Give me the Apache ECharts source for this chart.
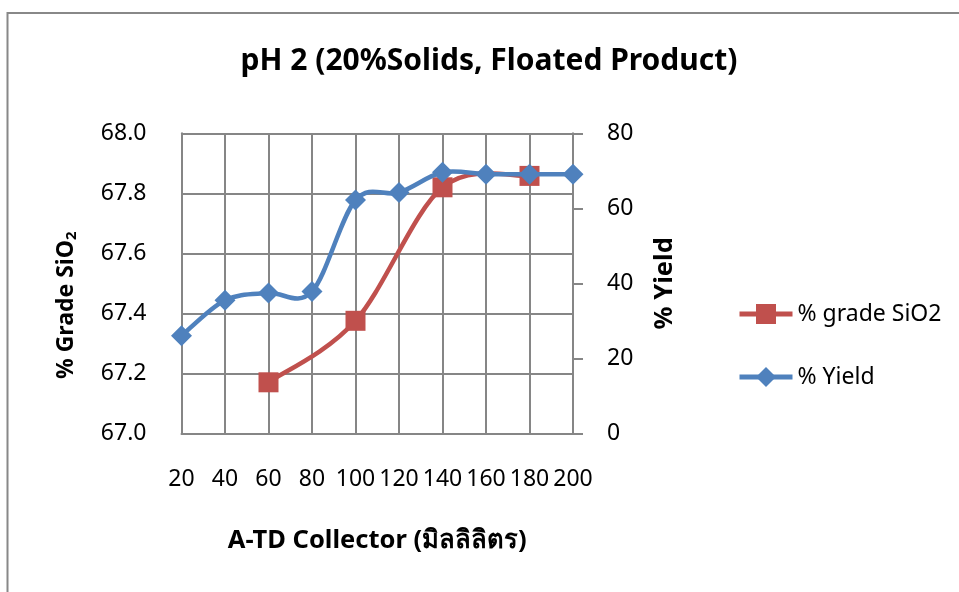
<!DOCTYPE html>
<html>
<head>
<meta charset="utf-8">
<script src="https://cdn.jsdelivr.net/npm/echarts@6/dist/echarts.min.js"></script>
<style>
  html, body { margin: 0; padding: 0; background: #ffffff; }
  #chart { width: 959px; height: 592px; }
</style>
</head>
<body>
<div id="chart"></div>
<script>
// Collector dosage (ml) on the x axis
var collectorDose = ['20', '40', '60', '80', '100', '120', '140', '160', '180', '200'];
// SiO2 grade of the floated product (%), measured at four dosages only
var gradeSiO2 = [null, null, 67.17, null, 67.375, null, 67.82, null, 67.858, null];
// Mass yield (%)
var yieldPct = [26.0, 35.5, 37.4, 37.8, 62.2, 64.2, 69.6, 69.1, 69.1, 69.1];
// Axis ranges and steps
var gradeAxis = { min: 67.0, max: 68.0, step: 0.2 };
var yieldAxis = { min: 0, max: 80, step: 20 };

var FONT = "'Noto Sans', 'DejaVu Sans', sans-serif";
var GRID = '#868686';
var RED = '#C0504D';
var BLUE = '#4F81BD';
var LINE_W = 4.5;

// [categoryIndex, value] pairs for the points that exist
function pairs(values) {
  var out = [];
  values.forEach(function (v, i) { if (v != null) out.push([i, v]); });
  return out;
}
var gradePairs = pairs(gradeSiO2);
var yieldPairs = pairs(yieldPct);

// Smooth curve through all points (Catmull-Rom turned into cubic Bezier pieces),
// positioned through the axes with api.coord.
function smoothCurve(points, color) {
  return function (params, api) {
    if (params.dataIndex !== 0) return null;
    var p = points.map(function (d) { return api.coord(d); });
    var n = p.length;
    var children = [];
    for (var i = 0; i < n - 1; i++) {
      var p0 = p[Math.max(i - 1, 0)];
      var p1 = p[i];
      var p2 = p[i + 1];
      var p3 = p[Math.min(i + 2, n - 1)];
      children.push({
        type: 'bezierCurve',
        shape: {
          x1: p1[0], y1: p1[1],
          cpx1: p1[0] + (p2[0] - p0[0]) / 6, cpy1: p1[1] + (p2[1] - p0[1]) / 6,
          cpx2: p2[0] - (p3[0] - p1[0]) / 6, cpy2: p2[1] - (p3[1] - p1[1]) / 6,
          x2: p2[0], y2: p2[1]
        },
        style: { stroke: color, lineWidth: LINE_W, fill: null, lineCap: 'round', lineJoin: 'round' }
      });
    }
    return { type: 'group', children: children };
  };
}

var chart = echarts.init(document.getElementById('chart'), null, { renderer: 'canvas' });

chart.setOption({
  backgroundColor: '#ffffff',
  animation: false,
  textStyle: { fontFamily: FONT },
  title: {
    text: 'pH 2 (20%Solids, Floated Product)',
    left: 484,
    top: 41,
    textAlign: 'center',
    textStyle: { fontFamily: FONT, fontWeight: 'bold', fontSize: 30, color: '#000' }
  },
  graphic: [{
    type: 'rect',
    shape: { x: 7.5, y: 13, width: 1000, height: 700 },
    style: { fill: 'none', stroke: '#888888', lineWidth: 2 },
    silent: true
  }],
  legend: {
    orient: 'vertical',
    left: 732,
    top: 297.5,
    itemWidth: 53,
    itemHeight: 25,
    itemGap: 40,
    textStyle: { fontFamily: FONT, fontSize: 23, color: '#000' },
    lineStyle: { width: 5, opacity: 1 },
    data: [
      { name: '% grade SiO2', lineStyle: { color: RED, width: 5, opacity: 1 } },
      { name: '% Yield', lineStyle: { color: BLUE, width: 5, opacity: 1 } }
    ]
  },
  grid: { left: 181.5, top: 133.3, width: 391.5, height: 300, containLabel: false },
  xAxis: {
    type: 'category',
    data: collectorDose,
    boundaryGap: false,
    name: 'A-TD Collector (มิลลิลิตร)',
    nameLocation: 'middle',
    nameGap: 94,
    nameTextStyle: { fontFamily: FONT, fontWeight: 'bold', fontSize: 25.5, color: '#000' },
    axisLine: { show: true, lineStyle: { color: GRID, width: 2 } },
    axisTick: { show: false },
    axisLabel: { fontFamily: FONT, fontSize: 23, color: '#000', margin: 35, interval: 0 },
    splitLine: { show: true, lineStyle: { color: GRID, width: 2 } }
  },
  yAxis: [{
    type: 'value',
    position: 'left',
    min: gradeAxis.min,
    max: gradeAxis.max,
    interval: gradeAxis.step,
    name: '{t|% Grade SiO}{s|2}',
    nameLocation: 'middle',
    nameGap: 102,
    nameRotate: 90,
    nameTextStyle: {
      padding: [0, 44, 0, 0],
      rich: {
        t: { fontFamily: FONT, fontWeight: 'bold', fontSize: 23, color: '#000' },
        s: { fontFamily: FONT, fontWeight: 'bold', fontSize: 15, color: '#000', verticalAlign: 'bottom', padding: [11, 0, 0, 0] }
      }
    },
    axisLine: { show: true, lineStyle: { color: GRID, width: 2 } },
    axisTick: { show: false },
    axisLabel: {
      fontFamily: FONT, fontSize: 23, color: '#000', margin: 35,
      formatter: function (v) { return v.toFixed(1); }
    },
    splitLine: { show: true, lineStyle: { color: GRID, width: 2 } }
  }, {
    type: 'value',
    position: 'right',
    min: yieldAxis.min,
    max: yieldAxis.max,
    interval: yieldAxis.step,
    name: '% Yield',
    nameLocation: 'middle',
    nameGap: 79,
    nameRotate: 90,
    nameTextStyle: { fontFamily: FONT, fontWeight: 'bold', fontSize: 25.5, color: '#000' },
    axisLine: { show: true, lineStyle: { color: GRID, width: 2 } },
    axisTick: { show: true, inside: false, length: 10, lineStyle: { color: GRID, width: 2 } },
    axisLabel: { fontFamily: FONT, fontSize: 23, color: '#000', margin: 34 },
    splitLine: { show: false }
  }],
  series: [{
    type: 'custom',
    yAxisIndex: 0,
    data: gradePairs,
    encode: { x: 0, y: 1 },
    renderItem: smoothCurve(gradePairs, RED),
    silent: true,
    z: 2
  }, {
    name: '% grade SiO2',
    type: 'line',
    yAxisIndex: 0,
    data: gradeSiO2,
    connectNulls: true,
    symbol: 'rect',
    symbolSize: 20,
    lineStyle: { color: RED, width: LINE_W, opacity: 0 },
    itemStyle: { color: RED },
    z: 3
  }, {
    type: 'custom',
    yAxisIndex: 1,
    data: yieldPairs,
    encode: { x: 0, y: 1 },
    renderItem: smoothCurve(yieldPairs, BLUE),
    silent: true,
    z: 4
  }, {
    name: '% Yield',
    type: 'line',
    yAxisIndex: 1,
    data: yieldPct,
    symbol: 'diamond',
    symbolSize: 21,
    lineStyle: { color: BLUE, width: LINE_W, opacity: 0 },
    itemStyle: { color: BLUE },
    z: 5
  }]
});
</script>
</body>
</html>
